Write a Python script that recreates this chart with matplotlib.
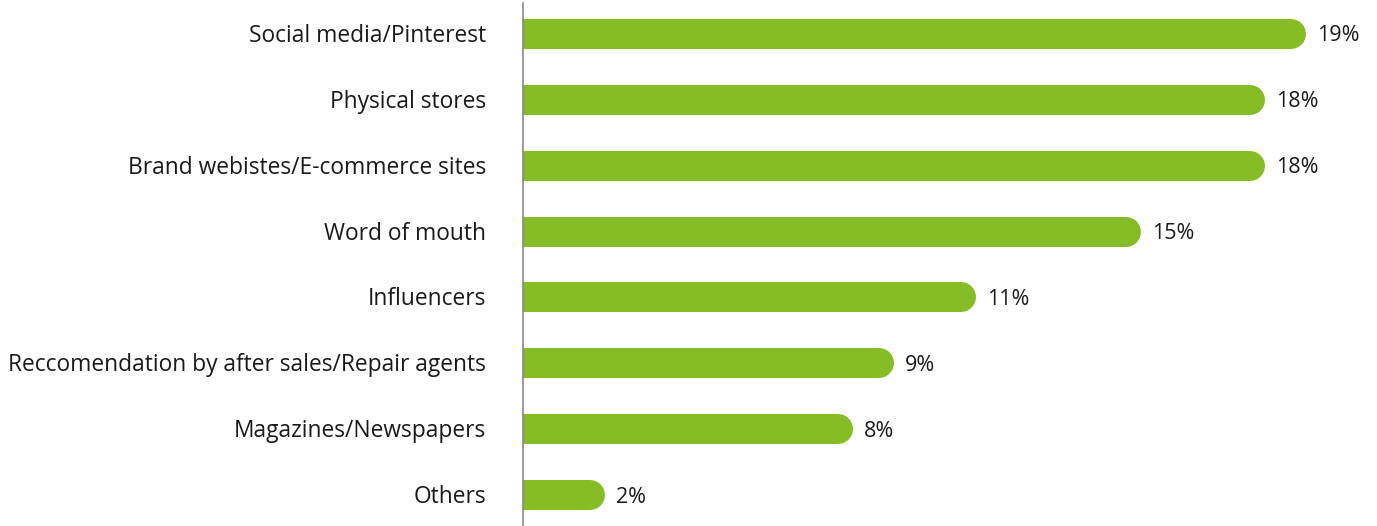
import matplotlib.pyplot as plt
from matplotlib.transforms import offset_copy

plt.rcParams['font.family'] = ['Open Sans', 'DejaVu Sans']

# Share of respondents by source of inspiration
channels = [
    'Social media/Pinterest',
    'Physical stores',
    'Brand webistes/E-commerce sites',
    'Word of mouth',
    'Influencers',
    'Reccomendation by after sales/Repair agents',
    'Magazines/Newspapers',
    'Others',
]
shares = [19, 18, 18, 15, 11, 9, 8, 2]

GREEN = '#86bc25'
W, H, DPI = 1377, 526, 100

fig = plt.figure(figsize=(W / DPI, H / DPI), dpi=DPI)
ax = fig.add_axes([523 / W, 0, 1 - 523 / W, 523 / H])

xmax = (W - 523) / 41.2
ax.set_xlim(0, xmax)
ax.set_ylim(len(channels) - 0.53, -0.47)

bar_h = 0.455
# radius of the rounded end, in data units along x
ax_w_px = W - 523
r = 15 / ax_w_px * xmax
lw_pt = 30 * 72 / DPI

ypos = list(range(len(channels)))
for y, v in zip(ypos, shares):
    ax.barh(y, v - r, height=bar_h, color=GREEN, linewidth=0)
    ax.plot([v - 2 * r, v - r], [y, y], color=GREEN, lw=lw_pt,
            solid_capstyle='round')

label_tr = offset_copy(ax.transData, fig=fig, x=11, y=-2, units='dots')
for y, v in zip(ypos, shares):
    ax.text(v, y, f'{v}%', transform=label_tr, va='center', ha='left',
            fontsize=15.5, color='#1a1a1a')

name_tr = offset_copy(ax.get_yaxis_transform(), fig=fig, x=-37, y=-2, units='dots')
for y, name in zip(ypos, channels):
    ax.text(0, y, name, transform=name_tr, va='center', ha='right',
            fontsize=16.4, color='#1a1a1a')

for s in ['top', 'right', 'bottom']:
    ax.spines[s].set_visible(False)
ax.spines['left'].set_color('#888888')
ax.spines['left'].set_linewidth(1.2)
ax.set_xticks([])
ax.set_yticks([])

fig.savefig('out.png', dpi=DPI)
